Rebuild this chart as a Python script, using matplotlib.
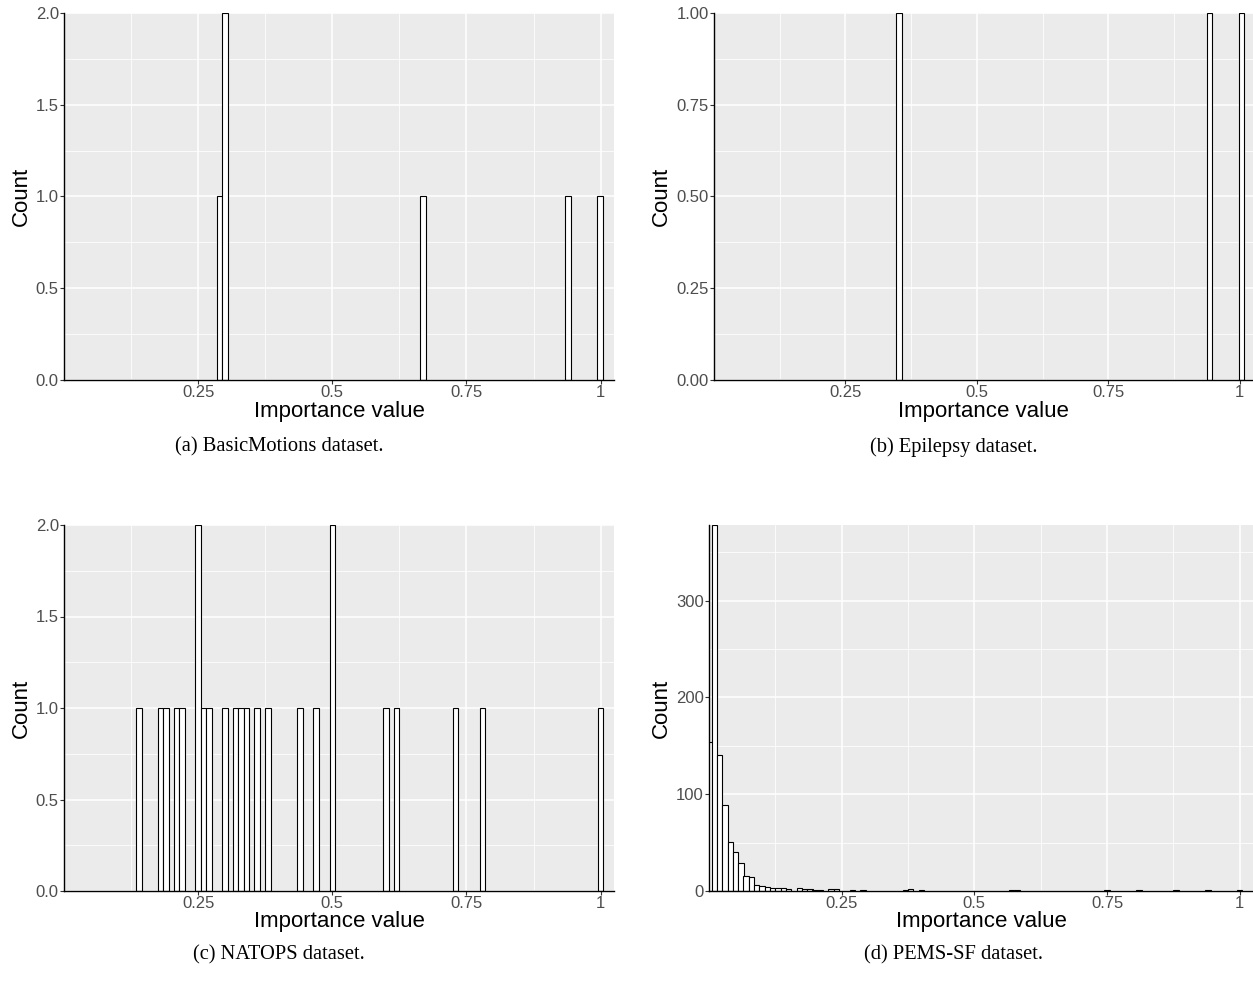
import matplotlib
matplotlib.use('Agg')
from matplotlib import pyplot as plt

# histogram bins (centre of each bar) and how many features fall in them
basic_centers = [0.2897, 0.3001, 0.669, 0.939, 0.999]
basic_counts = [1, 2, 1, 1, 1]

epilepsy_centers = [0.352, 0.942, 1.003]
epilepsy_counts = [1, 1, 1]

natops_centers = [0.14, 0.18, 0.19, 0.21, 0.22, 0.25, 0.26, 0.27, 0.30, 0.32, 0.33,
                  0.34, 0.36, 0.38, 0.44, 0.47, 0.50, 0.60, 0.62, 0.73, 0.78, 1.00]
natops_counts = [1, 1, 1, 1, 1, 2, 1, 1, 1, 1, 1,
                 1, 1, 1, 1, 1, 2, 1, 1, 1, 1, 1]

pems_bins = [0, 1, 2, 3, 4, 5, 6, 7, 8, 9, 10, 11, 12, 13, 14, 15, 17, 18, 19, 20, 21,
             23, 24, 27, 29, 37, 38, 40, 57, 58, 75, 81, 88, 94, 100]
pems_counts = [154, 378, 140, 89, 51, 40, 29, 16, 14, 6, 5, 4, 3, 3, 3, 2, 3, 2, 2, 1, 1,
               2, 2, 1, 1, 1, 2, 1, 1, 1, 1, 1, 1, 1, 1]
pems_centers = [b * 0.01 for b in pems_bins]

x_ticks = [0.25, 0.5, 0.75, 1]
x_tick_labels = ['0.25', '0.5', '0.75', '1']
captions = ['(a) BasicMotions dataset.', '(b) Epilepsy dataset.',
            '(c) NATOPS dataset.', '(d) PEMS-SF dataset.']

W, H = 1253, 982
fig = plt.figure(figsize=(W / 100, H / 100), dpi=100)
sans = ['Liberation Sans', 'DejaVu Sans']
serif = ['Liberation Serif', 'DejaVu Serif']


def px_axes(left, right, top, bottom):
    return fig.add_axes([left / W, 1 - bottom / H, (right - left) / W, (bottom - top) / H])


panels = [
    # (left, right, top, bottom) in pixels, data, bar width, y ticks
    ((64, 614, 13, 380), basic_centers, basic_counts, 0.0104, 2,
     [0, 0.5, 1, 1.5, 2], ['0.0', '0.5', '1.0', '1.5', '2.0'], [0.25, 0.75, 1.25, 1.75]),
    ((714, 1253, 13, 380), epilepsy_centers, epilepsy_counts, 0.0105, 1,
     [0, 0.25, 0.5, 0.75, 1], ['0.00', '0.25', '0.50', '0.75', '1.00'], [0.125, 0.375, 0.625, 0.875]),
    ((64, 614, 525, 891), natops_centers, natops_counts, 0.0102, 2,
     [0, 0.5, 1, 1.5, 2], ['0.0', '0.5', '1.0', '1.5', '2.0'], [0.25, 0.75, 1.25, 1.75]),
    ((709, 1253, 525, 891), pems_centers, pems_counts, 0.0101, 378,
     [0, 100, 200, 300], ['0', '100', '200', '300'], [50, 150, 250, 350]),
]

for i, (box, centers, counts, width, ytop, yt, ytl, yminor) in enumerate(panels):
    left, right, top, bottom = box
    ax = px_axes(left, right, top, bottom)
    ax.set_facecolor('#EBEBEB')
    ax.bar(centers, counts, width=width, color='white', edgecolor='black',
           linewidth=0.8, zorder=3)
    ax.set_xlim(0, 1.025)
    ax.set_ylim(0, ytop)

    ax.set_xticks(x_ticks)
    ax.set_xticklabels(x_tick_labels, family=sans)
    ax.set_xticks([0.125, 0.375, 0.625, 0.875], minor=True)
    ax.set_yticks(yt)
    ax.set_yticklabels(ytl, family=sans)
    ax.set_yticks(yminor, minor=True)

    ax.grid(which='major', color='white', linewidth=1.1, zorder=1)
    ax.grid(which='minor', color='white', linewidth=0.55, zorder=1)
    ax.set_axisbelow(True)

    ax.tick_params(which='major', length=2.75, width=0.8, color='#333333',
                   labelcolor='#4D4D4D', labelsize=12, pad=1)
    ax.tick_params(which='minor', length=0)
    for s in ['top', 'right']:
        ax.spines[s].set_visible(False)
    for s in ['left', 'bottom']:
        ax.spines[s].set_color('black')
        ax.spines[s].set_linewidth(1.0)
        ax.spines[s].set_zorder(4)

    cx = (left + right) / 2
    fig.text(cx / W, 1 - (bottom + 31) / H, 'Importance value', family=sans,
             fontsize=16, ha='center', va='center')
    ylab_x = 21 if left < 300 else 661
    fig.text(ylab_x / W, 1 - ((top + bottom) / 2) / H, 'Count', family=sans,
             fontsize=16, ha='center', va='center', rotation=90)

    cap_x = 279 if left < 300 else 954
    cap_y = 447 if top < 300 else 955
    fig.text(cap_x / W, 1 - cap_y / H, captions[i], family=serif,
             fontsize=14.8, ha='center', va='center')

fig.savefig('out.png', dpi=100)
